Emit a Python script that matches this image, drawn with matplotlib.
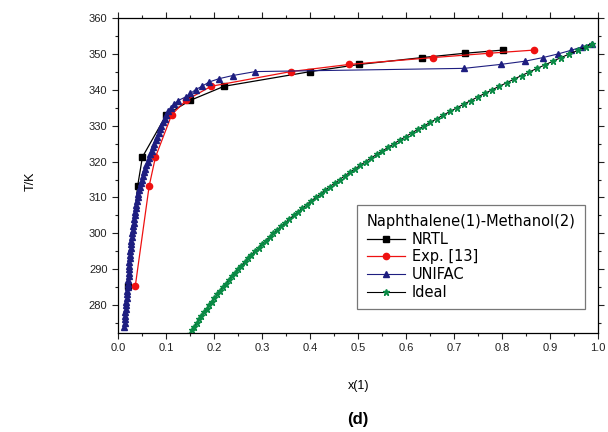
import matplotlib
matplotlib.use("Agg")
import matplotlib.pyplot as plt
from matplotlib.ticker import MultipleLocator

plt.rcParams['font.family'] = ['Liberation Sans', 'DejaVu Sans']

# NRTL
nrtl_x = [0.021, 0.041, 0.051, 0.101, 0.151, 0.221, 0.401, 0.503, 0.633, 0.722, 0.802]
nrtl_t = [285.3, 313.2, 321.3, 333.1, 337.1, 341.0, 345.1, 347.1, 349.0, 350.2, 351.1]

# Exp. [13]
exp_x = [0.036, 0.065, 0.078, 0.112, 0.142, 0.194, 0.360, 0.482, 0.656, 0.772, 0.867]
exp_t = [285.2, 313.2, 321.2, 333.1, 337.1, 341.0, 345.1, 347.1, 349.0, 350.2, 351.1]

# UNIFAC
unifac_x = [0.013, 0.014, 0.014, 0.015, 0.015, 0.016, 0.016, 0.017, 0.018, 0.018,
            0.019, 0.020, 0.020, 0.021, 0.022, 0.022, 0.023, 0.024, 0.024, 0.025,
            0.026, 0.026, 0.027, 0.028, 0.028, 0.029, 0.030, 0.031, 0.032, 0.033,
            0.034, 0.035, 0.036, 0.037, 0.038, 0.039, 0.041, 0.042, 0.044, 0.046,
            0.048, 0.050, 0.052, 0.054, 0.056, 0.059, 0.062, 0.065, 0.067, 0.070,
            0.073, 0.076, 0.079, 0.082, 0.085, 0.088, 0.090, 0.094, 0.097, 0.100,
            0.105, 0.110, 0.117, 0.125,
            0.142, 0.151, 0.162, 0.175, 0.190, 0.210, 0.239, 0.286,
            0.721, 0.797, 0.848, 0.885, 0.916, 0.943, 0.967, 0.987]
unifac_t = [274, 275, 276, 277, 278, 279, 280, 281, 282, 283,
            284, 285, 286, 287, 288, 289, 290, 291, 292, 293,
            294, 295, 296, 297, 298, 299, 300, 301, 302, 303,
            304, 305, 306, 307, 308, 309, 310, 311, 312, 313,
            314, 315, 316, 317, 318, 319, 320, 321, 322, 323,
            324, 325, 326, 327, 328, 329, 330, 331, 332, 333,
            334, 335, 336, 337,
            338.1, 339.0, 340.1, 341.0, 342.2, 343.1, 344.0, 345.1,
            346.0, 347.1, 348.0, 349.0, 350.0, 351.0, 352.0, 352.9]

# Ideal
ideal_x = [0.150, 0.155, 0.159, 0.164, 0.169, 0.174, 0.179, 0.185, 0.190, 0.195,
           0.201, 0.207, 0.213, 0.218, 0.225, 0.231, 0.237, 0.244, 0.250, 0.257,
           0.264, 0.271, 0.278, 0.285, 0.293, 0.300, 0.308, 0.316, 0.324, 0.332,
           0.340, 0.349, 0.357, 0.366, 0.375, 0.384, 0.393, 0.402, 0.412, 0.422,
           0.431, 0.441, 0.452, 0.462, 0.472, 0.483, 0.494, 0.505, 0.516, 0.527,
           0.539, 0.551, 0.563, 0.575, 0.587, 0.600, 0.612, 0.625, 0.638, 0.651,
           0.665, 0.678, 0.692, 0.706, 0.720, 0.735, 0.749, 0.764, 0.779, 0.794,
           0.810, 0.825, 0.841, 0.857, 0.873, 0.890, 0.906, 0.923, 0.940, 0.958,
           0.975, 0.987]
ideal_t = [272, 273, 274, 275, 276, 277, 278, 279, 280, 281,
           282, 283, 284, 285, 286, 287, 288, 289, 290, 291,
           292, 293, 294, 295, 296, 297, 298, 299, 300, 301,
           302, 303, 304, 305, 306, 307, 308, 309, 310, 311,
           312, 313, 314, 315, 316, 317, 318, 319, 320, 321,
           322, 323, 324, 325, 326, 327, 328, 329, 330, 331,
           332, 333, 334, 335, 336, 337, 338, 339, 340, 341,
           342, 343, 344, 345, 346, 347, 348, 349, 350, 351,
           352, 352.9]

xticks = [0.0, 0.1, 0.2, 0.3, 0.4, 0.5, 0.6, 0.7, 0.8, 0.9, 1.0]
xtick_labels = ['0.0', '0.1', '0.2', '0.3', '0.4', '0.5', '0.6', '0.7', '0.8', '0.9', '1.0']
yticks = [280, 290, 300, 310, 320, 330, 340, 350, 360]

fig = plt.figure(figsize=(6.08, 4.32), dpi=100)
ax = fig.add_axes([0.194, 0.229, 0.7896, 0.729])

ax.plot(nrtl_x, nrtl_t, color='black', marker='s', ms=4, lw=0.9, label='NRTL')
ax.plot(exp_x, exp_t, color='#ee1111', marker='o', ms=4.5, lw=0.9, label='Exp. [13]')
ax.plot(unifac_x, unifac_t, color='#1e1e80', marker='^', ms=4.5, lw=0.8, label='UNIFAC')
ax.plot(ideal_x, ideal_t, color='black', marker='*', ms=5, lw=0.8,
        mfc='#0a8a45', mec='#0a8a45', label='Ideal')

ax.set_xlim(0.0, 1.0)
ax.set_ylim(272.2, 360)
ax.set_xticks(xticks)
ax.set_xticklabels(xtick_labels)
ax.set_yticks(yticks)
ax.xaxis.set_minor_locator(MultipleLocator(0.05))
ax.yaxis.set_minor_locator(MultipleLocator(5))
ax.tick_params(which='both', direction='out', top=True, right=True, labelsize=8, colors='#222222')
ax.tick_params(which='major', length=4, width=0.8)
ax.tick_params(which='minor', length=2.5, width=0.8)
for s in ax.spines.values():
    s.set_linewidth(0.9)

leg = ax.legend(title='Naphthalene(1)-Methanol(2)', loc='lower right',
                bbox_to_anchor=(0.973, 0.076), borderaxespad=0,
                prop={'family': 'DejaVu Sans', 'size': 10.5},
                frameon=True, fancybox=False, edgecolor='#555555',
                handlelength=2.6, handletextpad=0.5, labelspacing=0.18, borderpad=0.65)
leg.get_title().set_fontfamily('DejaVu Sans')
leg.get_title().set_fontsize(10.5)
leg._legend_box.align = 'left'
leg.get_frame().set_linewidth(0.9)

fig.text(0.05, 0.58, 'T/K', rotation=90, ha='center', va='center', fontsize=9)
fig.text(0.589, 0.107, 'x(1)', ha='center', va='center', fontsize=9)
fig.text(0.589, 0.028, '(d)', ha='center', va='center', fontsize=12, fontweight='bold')

fig.savefig('out.png', dpi=100)
